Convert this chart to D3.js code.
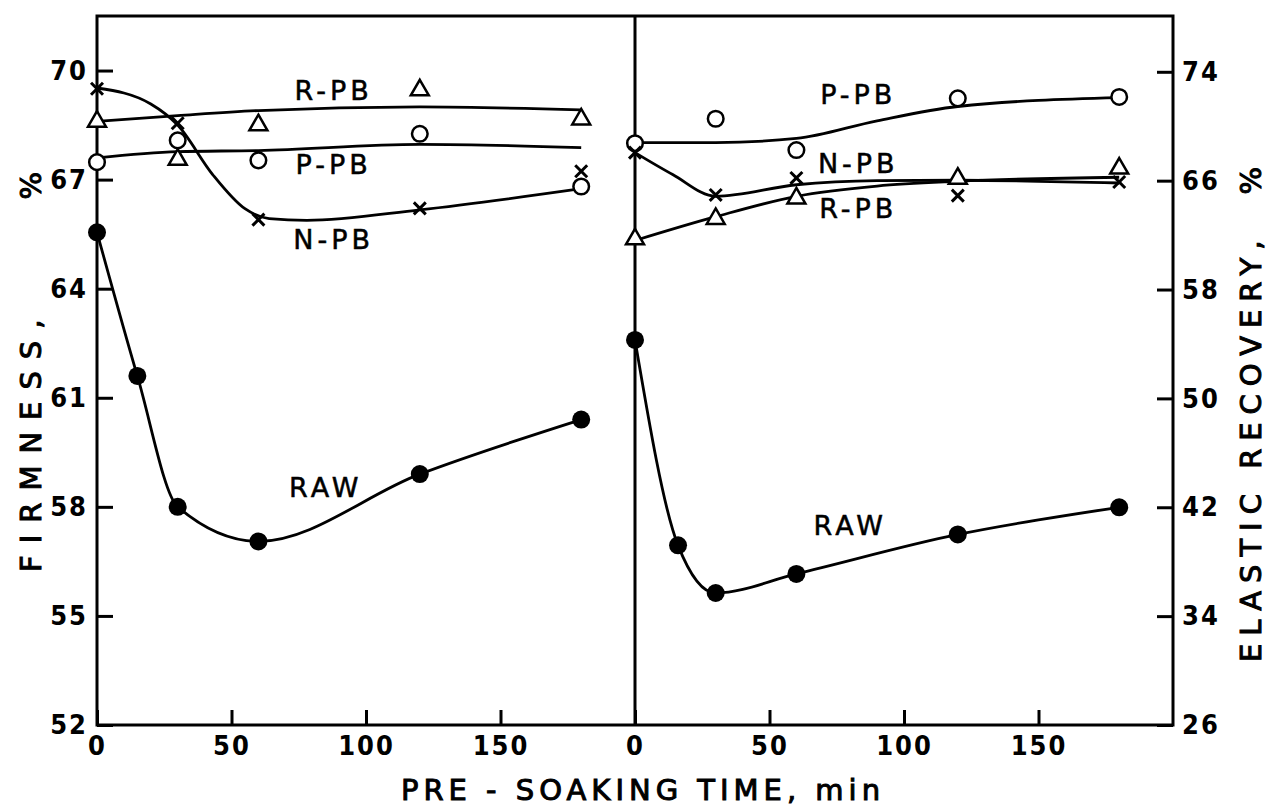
<!DOCTYPE html>
<meta charset="utf-8">
<style>
  body { margin: 0; background: white; }
  svg { background-color: white; }
  .axis path.domain { display: none; }
  .axis line { stroke: black; stroke-width: 3; }
  .axis text {
    font-family: "DejaVu Sans Condensed", "DejaVu Sans", sans-serif;
    font-size: 27px;
    font-weight: bold;
    letter-spacing: 2px;
    fill: black;
  }
  .fit { fill: none; stroke: black; stroke-width: 2.8; }
  .lbl {
    font-family: "DejaVu Sans", sans-serif;
    font-size: 27px;
    letter-spacing: 4px;
    fill: black;
    stroke: black;
    stroke-width: 0.5;
  }
  .title {
    font-family: "DejaVu Sans", sans-serif;
    font-size: 29px;
    fill: black;
    stroke: black;
    stroke-width: 1;
  }
</style>
<body>
<div id="chart"></div>
<script src="https://d3js.org/d3.v7.min.js"></script>
<script>
// ---- data ----
// left panel: firmness, %
var firmTimes    = [0, 30, 60, 120, 180];
var firmRawTimes = [0, 15, 30, 60, 120, 180];
var firmRaw = [65.55, 61.6, 58.0, 57.05, 58.9, 60.4];
var firmRPB = [68.6, 67.55, 68.5, 69.46, 68.66];
var firmPPB = [67.48, 68.08, 67.53, 68.26, 66.81];
var firmNPB = [69.5, 68.55, 65.9, 66.21, 67.23];
// drawn fitted curves (time, value)
var firmRPBFit = [[0, 68.6], [30, 68.76], [60, 68.9], [120, 69.0], [180, 68.92]];
var firmPPBFit = [[0, 67.6], [30, 67.77], [60, 67.8], [120, 67.97], [180, 67.88]];
var firmNPBFit = [[0, 69.52], [20, 69.08], [30, 68.5], [43, 67.14], [55, 66.2], [64, 65.93], [78, 65.88], [120, 66.17], [180, 66.75]];

// right panel: elastic recovery, %
var elasTimes    = [0, 30, 60, 120, 180];
var elasRawTimes = [0, 16, 30, 60, 120, 180];
var elasRaw = [54.3, 39.2, 35.7, 37.1, 40.0, 42.0];
var elasRPB = [61.7, 63.2, 64.7, 66.15, 66.9];
var elasPPB = [68.75, 70.55, 68.25, 72.05, 72.15];
var elasNPB = [68.06, 64.95, 66.2, 64.9, 65.9];
var elasRPBFit = [[0, 61.6], [30, 63.35], [60, 64.85], [90, 65.6], [120, 65.95], [180, 66.25]];
var elasPPBFit = [[0, 68.8], [30, 68.8], [60, 69.1], [90, 70.4], [120, 71.45], [180, 72.1]];
var elasNPBFit = [[0, 68.06], [14, 66.45], [30, 64.85], [60, 65.7], [90, 66.0], [120, 66.03], [180, 65.83]];

// tick values
var timeTicks = [0, 50, 100, 150];
var firmTicks = [52, 55, 58, 61, 64, 67, 70];
var elasTicks = [26, 34, 42, 50, 58, 66, 74];

// series labels (time, value, text)
var firmLabels = [[88, 69.47, "R-PB"], [88, 67.42, "P-PB"], [88, 65.35, "N-PB"], [85, 58.55, "RAW"]];
var elasLabels = [[83, 72.35, "P-PB"], [83, 67.3, "N-PB"], [83, 64.0, "R-PB"], [80, 40.7, "RAW"]];

// ---- layout ----
var W = 1269, H = 808;
var frameL = 97, frameM = 635, frameR = 1173, frameT = 16, frameB = 725;

var svg = d3.select("#chart").append("svg")
    .attr("width", W)
    .attr("height", H);

var xL = d3.scaleLinear().domain([0, 200]).range([frameL, frameM]);
var xR = d3.scaleLinear().domain([0, 200]).range([frameM, frameR]);
var yL = d3.scaleLinear().domain([52, 71.5]).range([frameB, frameT]);
var yR = d3.scaleLinear().domain([26, 78.1]).range([frameB, frameT]);

// frame + divider
svg.append("rect")
    .attr("x", frameL).attr("y", frameT)
    .attr("width", frameR - frameL).attr("height", frameB - frameT)
    .attr("fill", "none").attr("stroke", "black").attr("stroke-width", 3);
svg.append("line")
    .attr("x1", frameM).attr("x2", frameM).attr("y1", frameT).attr("y2", frameB)
    .attr("stroke", "black").attr("stroke-width", 3);

// axes
svg.append("g").attr("class", "axis")
    .attr("transform", "translate(" + frameL + ",0)")
    .call(d3.axisLeft(yL).tickValues(firmTicks).tickSizeInner(-16).tickSizeOuter(0).tickPadding(9));
svg.append("g").attr("class", "axis")
    .attr("transform", "translate(" + frameR + ",0)")
    .call(d3.axisRight(yR).tickValues(elasTicks).tickSizeInner(-16).tickSizeOuter(0).tickPadding(9))
    .selectAll("text").style("text-anchor", "start");
svg.append("g").attr("class", "axis")
    .attr("transform", "translate(0," + frameB + ")")
    .call(d3.axisBottom(xL).tickValues(timeTicks).tickSizeInner(-15).tickSizeOuter(0).tickPadding(11));
svg.append("g").attr("class", "axis")
    .attr("transform", "translate(0," + frameB + ")")
    .call(d3.axisBottom(xR).tickValues(timeTicks).tickSizeInner(-15).tickSizeOuter(0).tickPadding(11));

// ---- marks ----
function zip(ts, vs) { return ts.map(function(t, i) { return [t, vs[i]]; }); }

function drawPanel(x, y, raw, rpb, ppb, npb, fits, labels) {
  var line = d3.line()
      .x(function(d) { return x(d[0]); })
      .y(function(d) { return y(d[1]); })
      .curve(d3.curveMonotoneX);

  var g = svg.append("g");

  fits.concat([raw]).forEach(function(f) {
    g.append("path").attr("class", "fit").attr("d", line(f));
  });

  // RAW: filled circles
  g.selectAll(".raw").data(raw).enter().append("circle")
      .attr("cx", function(d) { return x(d[0]); })
      .attr("cy", function(d) { return y(d[1]); })
      .attr("r", 9).attr("fill", "black");

  // P-PB: open circles
  g.selectAll(".ppb").data(ppb).enter().append("circle")
      .attr("cx", function(d) { return x(d[0]); })
      .attr("cy", function(d) { return y(d[1]); })
      .attr("r", 7.8).attr("fill", "white")
      .attr("stroke", "black").attr("stroke-width", 2.5);

  // R-PB: open triangles
  g.selectAll(".rpb").data(rpb).enter().append("path")
      .attr("d", d3.symbol(d3.symbolTriangle, 140))
      .attr("transform", function(d) { return "translate(" + x(d[0]) + "," + y(d[1]) + ")"; })
      .attr("fill", "white").attr("stroke", "black").attr("stroke-width", 2.5);

  // N-PB: crosses
  g.selectAll(".npb").data(npb).enter().append("path")
      .attr("d", d3.symbol(d3.symbolX, 95))
      .attr("transform", function(d) { return "translate(" + x(d[0]) + "," + y(d[1]) + ")"; })
      .attr("fill", "none").attr("stroke", "black").attr("stroke-width", 3);

  g.selectAll(".lbl").data(labels).enter().append("text")
      .attr("class", "lbl")
      .attr("x", function(d) { return x(d[0]); })
      .attr("y", function(d) { return y(d[1]); })
      .attr("dy", "0.36em")
      .attr("text-anchor", "middle")
      .text(function(d) { return d[2]; });
}

drawPanel(xL, yL,
  zip(firmRawTimes, firmRaw), zip(firmTimes, firmRPB), zip(firmTimes, firmPPB), zip(firmTimes, firmNPB),
  [firmRPBFit, firmPPBFit, firmNPBFit], firmLabels);
drawPanel(xR, yR,
  zip(elasRawTimes, elasRaw), zip(elasTimes, elasRPB), zip(elasTimes, elasPPB), zip(elasTimes, elasNPB),
  [elasRPBFit, elasPPBFit, elasNPBFit], elasLabels);

// ---- axis titles ----
var tl = svg.append("text").attr("class", "title")
    .attr("transform", "translate(41,572) rotate(-90)")
    .style("letter-spacing", "12px");
tl.append("tspan").text("FIRMNESS,");
tl.append("tspan").attr("dx", 108).text("%");

var tr = svg.append("text").attr("class", "title")
    .attr("transform", "translate(1261,662) rotate(-90)")
    .style("letter-spacing", "8px");
tr.append("tspan").text("ELASTIC RECOVERY,");
tr.append("tspan").attr("dx", 38).text("%");

svg.append("text").attr("class", "title")
    .attr("text-anchor", "middle")
    .attr("x", 643).attr("y", 800)
    .style("letter-spacing", "5px")
    .text("PRE - SOAKING TIME, min");
</script>
</body>
